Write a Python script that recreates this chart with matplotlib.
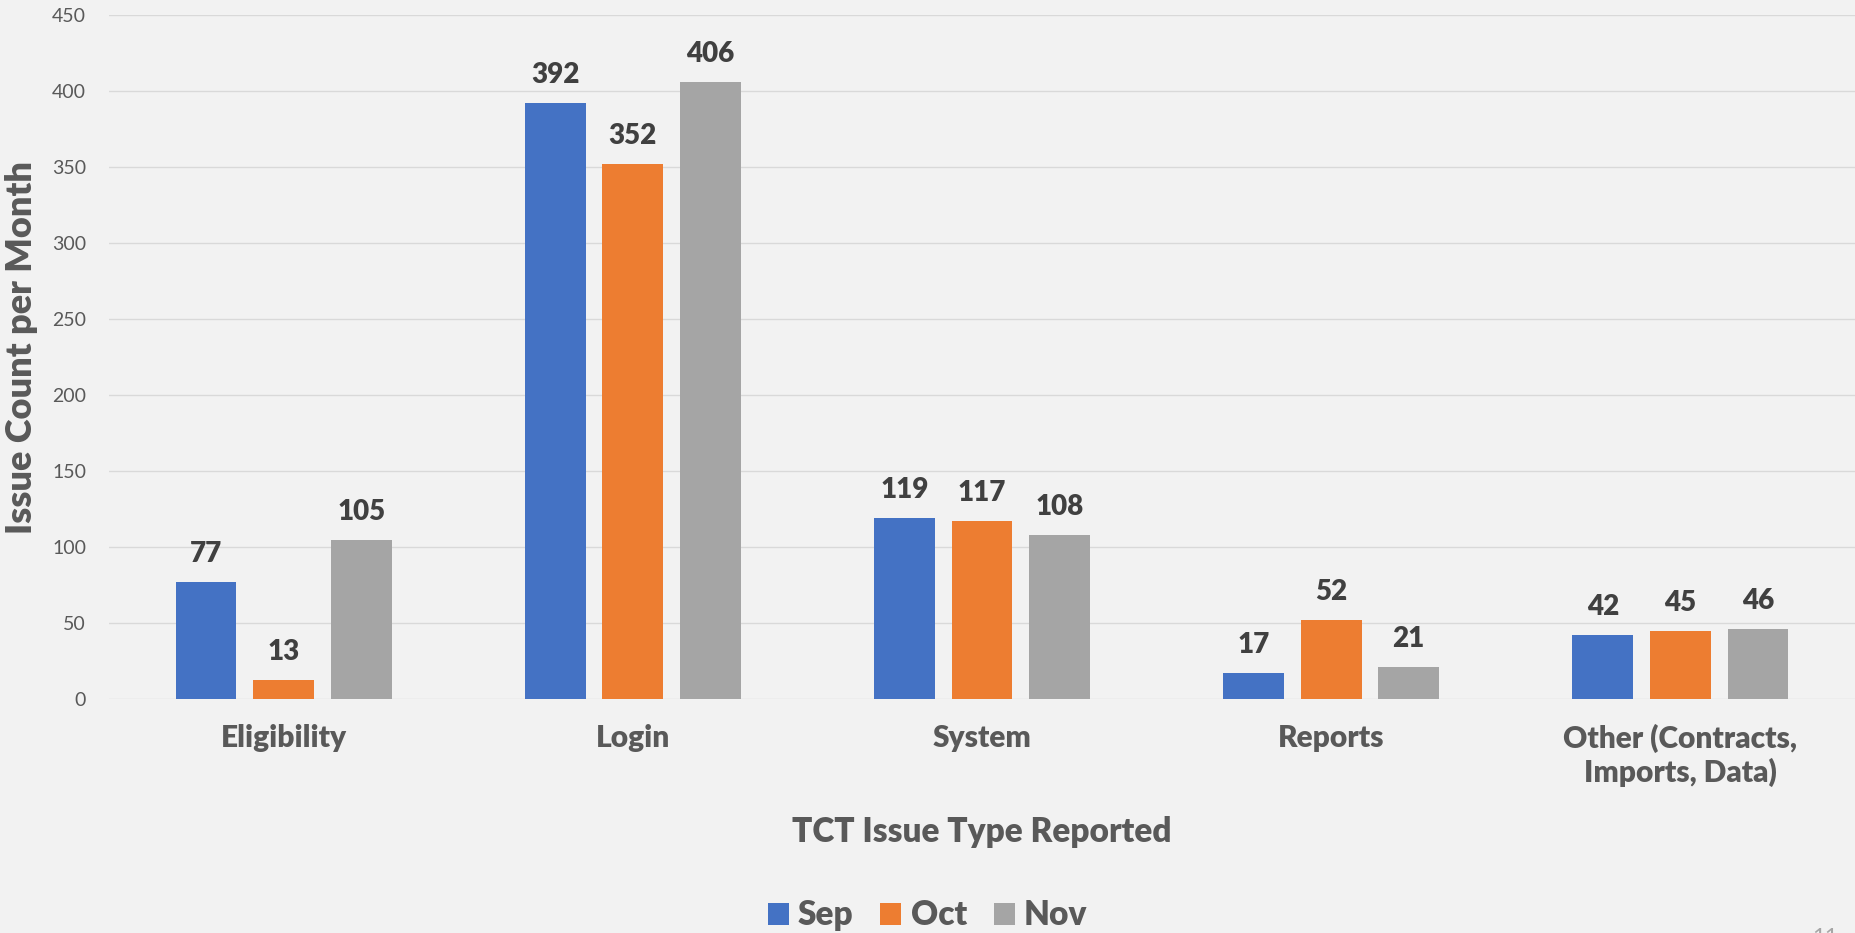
import matplotlib.pyplot as plt
import numpy as np

# data
categories = ['Eligibility', 'Login', 'System', 'Reports', 'Other (Contracts,\nImports, Data)']
months = ['Sep', 'Oct', 'Nov']
sep_counts = [77, 392, 119, 17, 42]
oct_counts = [13, 352, 117, 52, 45]
nov_counts = [105, 406, 108, 21, 46]
y_ticks = [0, 50, 100, 150, 200, 250, 300, 350, 400, 450]

colors = ['#4472C4', '#ED7D31', '#A5A5A5']
bg = '#F2F2F2'
heavy = 'heavy'

plt.rcParams['font.family'] = ['Lato', 'DejaVu Sans']

fig = plt.figure(figsize=(18.55, 9.33), dpi=100, facecolor=bg)
ax = fig.add_axes([109 / 1855, 1 - 699.3 / 933, 1 - 109 / 1855, (699.3 - 15.3) / 933])
ax.set_facecolor(bg)

x = np.arange(len(categories))
width = 0.174
step = 0.222
series = [sep_counts, oct_counts, nov_counts]

for i, (vals, col, name) in enumerate(zip(series, colors, months)):
    pos = x + (i - 1) * step
    ax.bar(pos, vals, width=width, color=col, label=name, zorder=3)
    for px, v in zip(pos, vals):
        ax.annotate(str(v), xy=(px, v), xytext=(0, 14.4), textcoords='offset points',
                    ha='center', va='baseline', fontsize=20, fontweight=heavy, color='#404040')

ax.set_xlim(-0.5, len(categories) - 0.5)
ax.set_ylim(0, 450)
ax.set_yticks(y_ticks)
ax.set_xticks(x)
ax.set_xticklabels(categories, fontsize=21.5, fontweight=heavy, color='#595959', linespacing=1.2)
ax.tick_params(axis='y', length=0, pad=16.5, labelsize=14, labelcolor='#595959')
ax.tick_params(axis='x', length=0, pad=18)
ax.grid(axis='y', color='#D9D9D9', lw=1.0, zorder=0)
ax.set_axisbelow(True)
for s in ax.spines.values():
    s.set_visible(False)

ax.set_xlabel('TCT Issue Type Reported', fontsize=24, fontweight=heavy, color='#595959', va='center')
ax.xaxis.set_label_coords(0.5, -0.194)
ax.set_ylabel('Issue Count per Month', fontsize=26, fontweight=heavy, color='#595959', va='center')
ax.yaxis.set_label_coords(-0.0504, 0.515)

leg = fig.legend(loc='center', bbox_to_anchor=(0.5, 0.0188), ncol=3, frameon=False,
                 fontsize=24, handlelength=0.63, handleheight=0.63, handletextpad=0.28,
                 columnspacing=0.8, borderaxespad=0, borderpad=0)
for t in leg.get_texts():
    t.set_fontweight(heavy)
    t.set_color('#595959')

# slide page number, cut off at the bottom edge as in the slide
fig.text(1825 / 1855, 1 - 927 / 933, '11', ha='center', va='top', fontsize=16, color='#A6A6A6')

fig.savefig('out.png', dpi=100, facecolor=bg)
